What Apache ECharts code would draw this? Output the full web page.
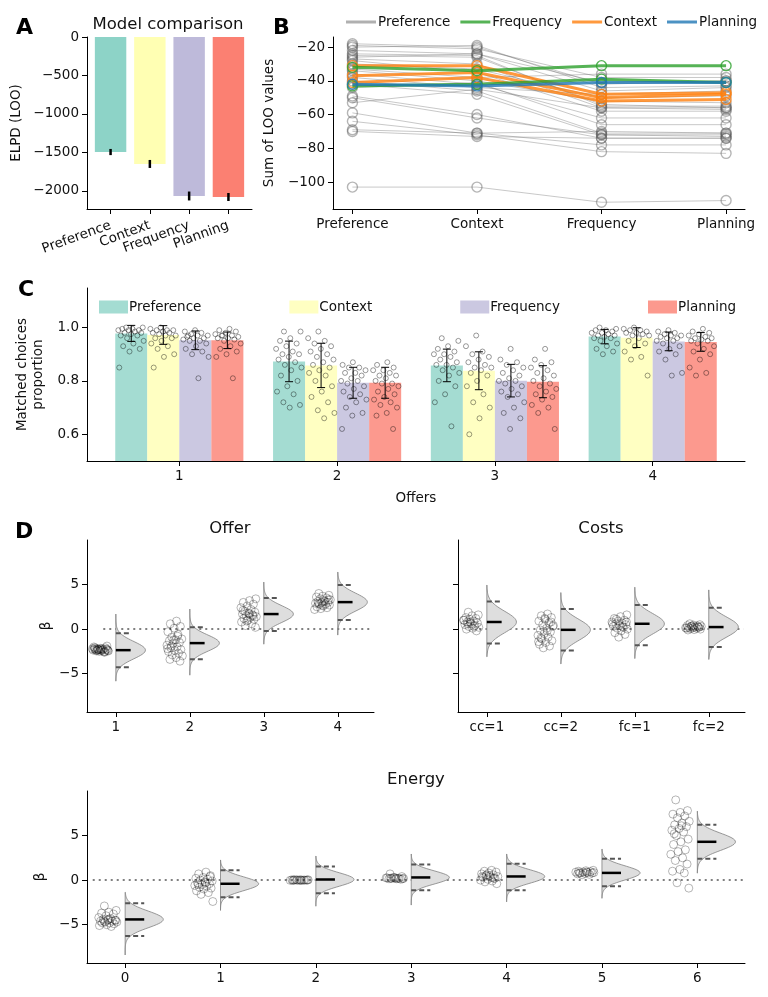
<!DOCTYPE html>
<html>
<head>
<meta charset="utf-8">
<script src="https://cdn.jsdelivr.net/npm/echarts@6/dist/echarts.min.js"></script>
<style>
  html, body { margin: 0; padding: 0; background: #fff; }
  #chart { width: 768px; height: 997px; }
</style>
</head>
<body>
<div id="chart"></div>
<script>
// ---- data ----
var models = ['Preference', 'Context', 'Frequency', 'Planning'];
var modelColors = ['#8dd3c7', '#ffffb3', '#bebada', '#fb8072'];

// A: model comparison
var elpd = [-1494, -1649, -2065, -2078];
var elpdSe = [40, 52, 58, 52];
var elpdTicks = [0, -500, -1000, -1500, -2000];

// B: per-subject sum of LOO values [Preference, Context, Frequency, Planning]
var looTicks = [-20, -40, -60, -80, -100];
var looPreference = [
  [-18, -20, -42, -40], [-19, -21, -38, -38], [-20, -19, -44, -43], [-22, -24, -46, -44],
  [-24, -25, -55, -55], [-25, -26, -54, -56], [-26, -24, -41, -40], [-27, -30, -56, -57],
  [-28, -35, -58, -58], [-30, -33, -50, -49], [-33, -38, -36, -36], [-34, -40, -52, -53],
  [-36, -42, -62, -62], [-38, -44, -48, -46], [-40, -46, -71, -71], [-42, -48, -72, -73],
  [-44, -41, -66, -66], [-49, -60, -74, -74], [-50, -62, -72, -72], [-53, -45, -56, -56],
  [-59, -71, -78, -78], [-64, -72, -82, -83], [-69, -71, -70, -71], [-70, -73, -74, -74],
  [-103, -103, -112, -111]
];
var looFrequency = [[-32, -34, -31, -31], [-43, -42, -39, -41]];
var looContext = [[-31, -31, -48, -47], [-37, -35, -50, -48], [-41, -38, -52, -51]];
var looPlanning = [[-42, -43, -41, -41]];

// C: matched choices proportion, [offer][model]
var offers = ['1', '2', '3', '4'];
var matchedTicks = [0.6, 0.8, 1.0];
var matchedMean = [
  [0.978, 0.972, 0.952, 0.952],
  [0.873, 0.858, 0.793, 0.793],
  [0.858, 0.838, 0.801, 0.797],
  [0.966, 0.962, 0.948, 0.946]
];
var matchedSd = [
  [0.030, 0.035, 0.035, 0.031],
  [0.076, 0.083, 0.058, 0.058],
  [0.061, 0.071, 0.061, 0.060],
  [0.027, 0.037, 0.035, 0.035]
];
var matchedPoints = [
  [
    [1.0, 1.0, 0.995, 0.995, 0.99, 0.99, 0.99, 0.985, 0.98, 0.98, 0.975, 0.97, 0.97, 0.96, 0.95, 0.94, 0.93, 0.92, 0.91, 0.85],
    [1.0, 0.995, 0.99, 0.99, 0.99, 0.985, 0.98, 0.98, 0.975, 0.97, 0.97, 0.96, 0.96, 0.95, 0.94, 0.93, 0.92, 0.9, 0.89, 0.85],
    [0.99, 0.985, 0.98, 0.975, 0.97, 0.97, 0.965, 0.96, 0.96, 0.955, 0.95, 0.95, 0.94, 0.93, 0.92, 0.91, 0.9, 0.89, 0.81, 0.97],
    [0.995, 0.99, 0.985, 0.98, 0.975, 0.97, 0.97, 0.965, 0.96, 0.96, 0.955, 0.95, 0.94, 0.93, 0.92, 0.91, 0.9, 0.89, 0.81, 0.97]
  ],
  [
    [0.985, 0.985, 0.96, 0.95, 0.94, 0.93, 0.92, 0.91, 0.9, 0.9, 0.89, 0.88, 0.87, 0.86, 0.85, 0.84, 0.82, 0.8, 0.78, 0.76, 0.75, 0.72, 0.71, 0.7],
    [0.985, 0.96, 0.95, 0.94, 0.93, 0.92, 0.91, 0.9, 0.89, 0.88, 0.87, 0.86, 0.85, 0.84, 0.83, 0.82, 0.8, 0.78, 0.76, 0.74, 0.72, 0.69, 0.68, 0.66],
    [0.87, 0.86, 0.85, 0.85, 0.84, 0.83, 0.83, 0.82, 0.81, 0.8, 0.8, 0.79, 0.78, 0.77, 0.76, 0.75, 0.74, 0.73, 0.72, 0.7, 0.68, 0.67, 0.62],
    [0.87, 0.86, 0.85, 0.84, 0.84, 0.83, 0.82, 0.82, 0.81, 0.8, 0.79, 0.79, 0.78, 0.77, 0.76, 0.75, 0.74, 0.73, 0.72, 0.71, 0.7, 0.68, 0.67, 0.62]
  ],
  [
    [0.96, 0.95, 0.93, 0.92, 0.91, 0.9, 0.9, 0.89, 0.88, 0.87, 0.86, 0.86, 0.85, 0.84, 0.83, 0.82, 0.8, 0.78, 0.75, 0.72, 0.63],
    [0.97, 0.93, 0.91, 0.9, 0.89, 0.88, 0.87, 0.86, 0.85, 0.85, 0.84, 0.83, 0.82, 0.8, 0.78, 0.75, 0.72, 0.7, 0.66, 0.6],
    [0.92, 0.88, 0.87, 0.86, 0.85, 0.84, 0.83, 0.82, 0.81, 0.8, 0.8, 0.79, 0.78, 0.77, 0.76, 0.75, 0.74, 0.72, 0.7, 0.68, 0.66, 0.62],
    [0.92, 0.88, 0.87, 0.86, 0.85, 0.84, 0.83, 0.82, 0.81, 0.8, 0.79, 0.78, 0.77, 0.76, 0.75, 0.74, 0.73, 0.71, 0.7, 0.68, 0.62]
  ],
  [
    [1.0, 0.995, 0.99, 0.99, 0.985, 0.98, 0.98, 0.975, 0.97, 0.97, 0.965, 0.96, 0.96, 0.95, 0.94, 0.93, 0.92, 0.91, 0.9],
    [1.0, 0.995, 0.99, 0.99, 0.985, 0.98, 0.98, 0.975, 0.97, 0.97, 0.96, 0.95, 0.94, 0.93, 0.91, 0.89, 0.88, 0.82],
    [0.99, 0.985, 0.98, 0.975, 0.97, 0.97, 0.965, 0.96, 0.96, 0.95, 0.95, 0.94, 0.93, 0.92, 0.91, 0.9, 0.88, 0.83, 0.82],
    [0.995, 0.985, 0.98, 0.975, 0.97, 0.965, 0.96, 0.96, 0.955, 0.95, 0.95, 0.94, 0.93, 0.92, 0.91, 0.9, 0.88, 0.85, 0.83, 0.82]
  ]
];

// D: posterior betas. violin rows = [mean, lower, upper, min, max]
var betaTicks = [-5, 0, 5];
var offerLabels = ['1', '2', '3', '4'];
var offerViolin = [
  [-2.36, -4.27, -0.45, -5.84, 1.69],
  [-1.57, -3.37, 0.22, -5.17, 2.25],
  [1.69, -0.22, 3.48, -1.69, 5.28],
  [3.03, 1.01, 4.94, -0.67, 6.4]
];
var offerPoints = [
  [-2.2, -2.3, -2.4, -2.1, -2.5, -2.3, -2.2, -2.35, -2.45, -2.25, -2.15, -2.0, -2.55, -2.3, -2.4, -2.2, -2.3, -2.1, -2.5, -2.35, -2.25, -2.4, -1.9, -2.3, -2.2, -2.6, -2.3, -2.45],
  [0.9, 0.6, 0.3, 0.1, -0.3, -0.6, -0.9, -1.1, -1.2, -1.3, -1.5, -1.6, -1.8, -2.0, -2.1, -2.3, -2.4, -2.5, -2.7, -2.9, -3.0, -3.2, -3.4, -3.6, -1.2, -2.2, -0.8, -1.9],
  [3.4, 3.2, 3.0, 2.8, 2.6, 2.4, 2.2, 2.0, 1.9, 1.8, 1.7, 1.6, 1.5, 1.4, 1.3, 1.2, 1.1, 1.0, 0.8, 0.6, 0.4, 0.2, 1.7, 2.1, 1.5, 0.9],
  [4.0, 3.8, 3.7, 3.6, 3.5, 3.4, 3.3, 3.2, 3.1, 3.0, 3.0, 2.9, 2.8, 2.8, 2.7, 2.6, 2.5, 2.4, 2.3, 2.2, 3.1, 2.9, 3.3, 2.7]
];
var costLabels = ['cc=1', 'cc=2', 'fc=1', 'fc=2'];
var costViolin = [
  [0.8, -1.6, 3.1, -3.1, 4.94],
  [-0.08, -2.4, 2.25, -3.9, 4.1],
  [0.6, -1.8, 2.7, -3.3, 4.7],
  [0.23, -2.0, 2.4, -3.4, 4.4]
];
var costPoints = [
  [1.9, 1.6, 1.5, 1.3, 1.2, 1.1, 1.0, 0.9, 0.8, 0.7, 0.6, 0.5, 0.4, 0.3, 0.2, 0.1, 0.0, -0.2, 0.8, 1.0, 0.3, 0.6],
  [1.7, 1.5, 1.3, 1.1, 0.9, 0.7, 0.5, 0.3, 0.1, -0.1, -0.3, -0.5, -0.7, -0.9, -1.1, -1.3, -1.5, -1.7, -1.9, -2.1, 0.4, -0.2, -1.0, 0.8, 1.2, -1.4],
  [1.6, 1.4, 1.2, 1.0, 0.9, 0.8, 0.7, 0.6, 0.5, 0.4, 0.3, 0.2, 0.1, 0.0, -0.2, -0.4, -0.6, -0.9, 0.6, 0.3, 1.1, 0.8],
  [0.6, 0.5, 0.45, 0.4, 0.35, 0.3, 0.3, 0.25, 0.2, 0.2, 0.15, 0.1, 0.1, 0.05, 0.0, -0.05, -0.1, 0.25, 0.35, 0.15]
];
var energyLabels = ['0', '1', '2', '3', '4', '5', '6'];
var energyViolin = [
  [-4.41, -6.26, -2.59, -8.4, -1.37],
  [-0.41, -1.93, 1.11, -3.4, 2.26],
  [0.07, -1.48, 1.52, -2.93, 2.7],
  [0.3, -1.15, 1.74, -2.8, 2.93],
  [0.41, -1.15, 1.85, -2.44, 2.93],
  [0.81, -0.7, 2.4, -2.04, 3.48],
  [4.3, 2.4, 6.22, 0.78, 7.74]
];
var energyPoints = [
  [-2.9, -3.4, -3.6, -3.7, -3.8, -4.0, -4.2, -4.3, -4.4, -4.5, -4.5, -4.6, -4.6, -4.7, -4.7, -4.8, -4.8, -4.9, -5.0, -5.1, -5.2, -4.6, -4.5, -4.4],
  [0.9, 0.7, 0.5, 0.3, 0.2, 0.1, 0.0, -0.1, -0.2, -0.3, -0.4, -0.5, -0.6, -0.7, -0.8, -0.9, -1.0, -1.2, -1.4, -1.6, -2.4, -0.3, -0.5, 0.4],
  [0.0, 0.05, -0.05, 0.0, 0.02, -0.02, 0.0, 0.05, 0.0, -0.03, 0.03, 0.0, 0.0, 0.04, -0.04, 0.01],
  [0.7, 0.4, 0.3, 0.25, 0.2, 0.2, 0.2, 0.15, 0.15, 0.1, 0.3, 0.25, 0.2, 0.2, 0.15, 0.2],
  [1.1, 1.0, 0.9, 0.8, 0.7, 0.6, 0.5, 0.4, 0.3, 0.3, 0.2, 0.1, 0.0, -0.1, -0.2, -0.4, 0.5, 0.4, 0.2, 0.6],
  [1.1, 1.05, 1.0, 0.95, 0.9, 0.9, 0.85, 0.8, 0.8, 0.75, 0.7, 0.65, 0.6, 0.85, 0.9, 0.8],
  [9.0, 7.8, 7.6, 7.4, 7.2, 7.0, 6.6, 6.4, 6.2, 6.0, 5.8, 5.6, 5.4, 5.0, 4.6, 4.3, 4.0, 3.4, 3.2, 2.9, 2.5, 2.2, 1.8, 1.2, 1.0, 0.8, -0.3, -0.9, 6.1, 5.2]
];

// ---- helpers ----
var FONT = 'DejaVu Sans';
var txt = { color: '#111', fontSize: 13.5, fontFamily: FONT };

function fmtNum(v) {
  return v < 0 ? '\u2212' + Math.abs(v) : String(v);
}
// spread of points around their column, driven by index only
function jit(i) {
  return ((i * 0.618034 + 0.31) % 1) * 2 - 1;
}

function xAxisFor(grid, min, max, ticks, names, rotate) {
  return {
    type: 'value', gridIndex: grid, min: min, max: max, position: 'bottom',
    axisLine: { show: true, onZero: false, lineStyle: { color: '#000', width: 1 } },
    axisTick: { show: true, length: 5, customValues: ticks, lineStyle: { color: '#000' } },
    axisLabel: Object.assign({
      customValues: ticks, margin: 8, rotate: rotate || 0, hideOverlap: false,
      formatter: function (v) { var i = ticks.indexOf(v); return i >= 0 ? names[i] : ''; }
    }, txt),
    splitLine: { show: false }
  };
}

function yAxisFor(grid, min, max, ticks, fmt, name, gap, showLabels) {
  return {
    type: 'value', gridIndex: grid, min: min, max: max,
    name: name || '', nameLocation: 'middle', nameGap: gap || 0, nameRotate: 90,
    nameTextStyle: Object.assign({ lineHeight: 16 }, txt),
    axisLine: { show: true, onZero: false, lineStyle: { color: '#000', width: 1 } },
    axisTick: { show: true, length: 5, customValues: ticks, lineStyle: { color: '#000' } },
    axisLabel: Object.assign({ show: showLabels !== false, customValues: ticks, formatter: fmt, margin: 8 }, txt),
    splitLine: { show: false }
  };
}

function lineShape(p, q, style) {
  return { type: 'line', shape: { x1: p[0], y1: p[1], x2: q[0], y2: q[1] }, style: style };
}

// half violin: flat side on the category, gaussian outline from the read mean / interval
var VIOLIN_HALF = 0.4;
function violinRender(params, api) {
  var x = api.value(0), m = api.value(1), lo = api.value(2), hi = api.value(3), mn = api.value(4), mx = api.value(5);
  var sd = (hi - lo) / 3.92;
  var pts = [api.coord([x, mn])];
  for (var k = 0; k <= 60; k++) {
    var y = mn + (mx - mn) * k / 60;
    var w = VIOLIN_HALF * Math.exp(-0.5 * Math.pow((y - m) / sd, 2));
    pts.push(api.coord([x + w, y]));
  }
  pts.push(api.coord([x, mx]));
  var dash = { stroke: '#555', lineWidth: 2, lineDash: [5, 3] };
  return {
    type: 'group',
    children: [
      { type: 'polygon', shape: { points: pts }, style: { fill: '#dedede', stroke: '#808080', lineWidth: 0.8 } },
      lineShape(api.coord([x, lo]), api.coord([x + 0.2, lo]), dash),
      lineShape(api.coord([x, hi]), api.coord([x + 0.2, hi]), dash),
      lineShape(api.coord([x, m]), api.coord([x + 0.2, m]), { stroke: '#000', lineWidth: 2.5 })
    ]
  };
}

function violinSeries(axis, rows, first) {
  return {
    type: 'custom', xAxisIndex: axis, yAxisIndex: axis, renderItem: violinRender, silent: true, z: 3,
    data: rows.map(function (r, i) { return [first + i].concat(r); })
  };
}

function betaPointSeries(axis, cols, first, centre, spread) {
  var data = [];
  cols.forEach(function (col, c) {
    col.forEach(function (v, i) { data.push([first + c + centre + jit(i + c * 7) * spread, v]); });
  });
  return {
    type: 'scatter', xAxisIndex: axis, yAxisIndex: axis, symbol: 'circle', symbolSize: 8, silent: true, z: 4,
    itemStyle: { color: 'rgba(0,0,0,0)', borderColor: 'rgba(0,0,0,0.45)', borderWidth: 0.8 },
    data: data
  };
}

function zeroLine(axis, from, to) {
  return {
    type: 'line', xAxisIndex: axis, yAxisIndex: axis, symbol: 'none', silent: true, z: 2,
    lineStyle: { color: '#808080', width: 2, type: [2, 4] },
    data: [[from, 0], [to, 0]]
  };
}

// ---- series ----
var series = [];

// A
series.push({
  type: 'custom', xAxisIndex: 0, yAxisIndex: 0, silent: true,
  data: elpd.map(function (v, i) { return [i, v, elpdSe[i]]; }),
  renderItem: function (params, api) {
    var i = api.value(0), v = api.value(1), se = api.value(2);
    var p0 = api.coord([i - 0.4, v]), p1 = api.coord([i + 0.4, 0]);
    return {
      type: 'group',
      children: [
        { type: 'rect', shape: { x: p0[0], y: p1[1], width: p1[0] - p0[0], height: p0[1] - p1[1] }, style: { fill: modelColors[i] } },
        lineShape(api.coord([i, v - se]), api.coord([i, v + se]), { stroke: '#000', lineWidth: 2.5 })
      ]
    };
  }
});

// B
function looSeries(rows, name, lineColor, width, edge, z) {
  return rows.map(function (r) {
    return {
      type: 'line', name: name, xAxisIndex: 1, yAxisIndex: 1, z: z, silent: true,
      data: r.map(function (v, i) { return [i, v]; }),
      symbol: 'circle', symbolSize: 10, showAllSymbol: true,
      lineStyle: { color: lineColor, width: width },
      itemStyle: { color: 'rgba(0,0,0,0)', borderColor: edge, borderWidth: 1.4 }
    };
  });
}
series = series.concat(
  looSeries(looPreference, 'Preference', 'rgba(100,100,100,0.45)', 0.8, 'rgba(90,90,90,0.45)', 2),
  looSeries(looContext, 'Context', 'rgba(255,127,14,0.8)', 3, 'rgba(255,127,14,0.8)', 3),
  looSeries(looFrequency, 'Frequency', 'rgba(44,160,44,0.8)', 3, 'rgba(44,160,44,0.8)', 4),
  looSeries(looPlanning, 'Planning', 'rgba(31,119,180,0.8)', 3, 'rgba(31,119,180,0.8)', 5)
);

// C
var BAR_W = 0.203;
models.forEach(function (name, m) {
  var off = (m - 1.5) * BAR_W;
  series.push({
    type: 'custom', name: name, xAxisIndex: 2, yAxisIndex: 2, silent: true, z: 2,
    data: offers.map(function (o, k) { return [k + 1 + off, matchedMean[k][m], matchedSd[k][m]]; }),
    renderItem: function (params, api) {
      var x = api.value(0), v = api.value(1), sd = api.value(2);
      var p0 = api.coord([x - BAR_W / 2, v]), p1 = api.coord([x + BAR_W / 2, 0.5]);
      var a = api.coord([x, v - sd]), b = api.coord([x, v + sd]);
      var ln = { stroke: '#000', lineWidth: 1 };
      return {
        type: 'group',
        children: [
          { type: 'rect', shape: { x: p0[0], y: p0[1], width: p1[0] - p0[0], height: p1[1] - p0[1] }, style: { fill: modelColors[m], opacity: 0.8 } },
          lineShape(a, b, ln),
          lineShape([a[0] - 4, a[1]], [a[0] + 4, a[1]], ln),
          lineShape([b[0] - 4, b[1]], [b[0] + 4, b[1]], ln)
        ]
      };
    }
  });
  var pts = [];
  offers.forEach(function (o, k) {
    matchedPoints[k][m].forEach(function (v, i) { pts.push([k + 1 + off + jit(i + m * 5) * 0.085, v]); });
  });
  series.push({
    type: 'scatter', xAxisIndex: 2, yAxisIndex: 2, symbol: 'circle', symbolSize: 5, silent: true, z: 4,
    itemStyle: { color: 'rgba(0,0,0,0)', borderColor: 'rgba(0,0,0,0.55)', borderWidth: 0.9 },
    data: pts
  });
});

// D
series.push(zeroLine(3, 0.83, 4.47), violinSeries(3, offerViolin, 1), betaPointSeries(3, offerPoints, 1, -0.21, 0.11));
series.push(zeroLine(4, 0.9, 4.47), violinSeries(4, costViolin, 1), betaPointSeries(4, costPoints, 1, -0.21, 0.11));
series.push(zeroLine(5, -0.34, 6.5), violinSeries(5, energyViolin, 0), betaPointSeries(5, energyPoints, 0, -0.18, 0.1));

// ---- chart ----
var chart = echarts.init(document.getElementById('chart'), null, { renderer: 'canvas' });
var labelStyle = { fontSize: 22, fontWeight: 'bold', fontFamily: FONT, color: '#000' };
var titleStyle = { fontSize: 16.5, fontWeight: 'normal', fontFamily: FONT, color: '#111' };
var noBorder = { borderWidth: 0, borderColor: 'rgba(0,0,0,0)' };

// panel A labels are split over two overlaid axes so the slanted names can overlap like the original
var axisA1 = xAxisFor(0, -0.6, 3.6, [0, 2], [models[0], models[2]], 20);
var axisA2 = xAxisFor(0, -0.6, 3.6, [1, 3], [models[1], models[3]], 20);
axisA1.axisLabel.margin = 16;
axisA2.axisLabel.margin = 16;
axisA2.axisLine.show = false;

chart.setOption({
  animation: false,
  backgroundColor: '#fff',
  title: [
    { text: 'A', left: 16, top: 17, padding: 0, textStyle: labelStyle },
    { text: 'B', left: 273, top: 17, padding: 0, textStyle: labelStyle },
    { text: 'C', left: 18, top: 279, padding: 0, textStyle: labelStyle },
    { text: 'D', left: 15, top: 521, padding: 0, textStyle: labelStyle },
    { text: 'Model comparison', left: 168, top: 16, padding: 0, textAlign: 'center', textStyle: titleStyle },
    { text: 'Offer', left: 230, top: 520, padding: 0, textAlign: 'center', textStyle: titleStyle },
    { text: 'Costs', left: 601, top: 520, padding: 0, textAlign: 'center', textStyle: titleStyle },
    { text: 'Energy', left: 416, top: 771, padding: 0, textAlign: 'center', textStyle: titleStyle }
  ],
  legend: [
    {
      left: 346, top: 15, width: 420, padding: 0, itemWidth: 30, itemHeight: 3, itemGap: 10, icon: 'rect',
      selectedMode: false, textStyle: Object.assign({ padding: [0, 0, 0, -3] }, txt),
      data: [
        { name: 'Preference', itemStyle: Object.assign({ color: '#b0b0b0' }, noBorder) },
        { name: 'Frequency', itemStyle: Object.assign({ color: 'rgba(44,160,44,0.8)' }, noBorder) },
        { name: 'Context', itemStyle: Object.assign({ color: 'rgba(255,127,14,0.8)' }, noBorder) },
        { name: 'Planning', itemStyle: Object.assign({ color: 'rgba(31,119,180,0.8)' }, noBorder) }
      ]
    },
    {
      left: 99, top: 300, width: 669, padding: 0, itemWidth: 29, itemHeight: 13, itemGap: 88, icon: 'rect',
      selectedMode: false, textStyle: Object.assign({ padding: [0, 0, 0, -4] }, txt),
      data: models.map(function (n, m) {
        return { name: n, itemStyle: Object.assign({ color: modelColors[m], opacity: 0.8 }, noBorder) };
      })
    }
  ],
  grid: [
    { left: 87, top: 37, width: 165, height: 172 },
    { left: 333, top: 37, width: 412, height: 172 },
    { left: 87, top: 288, width: 658, height: 173 },
    { left: 87, top: 540, width: 287, height: 172 },
    { left: 458, top: 540, width: 287, height: 172 },
    { left: 87, top: 791, width: 658, height: 172 }
  ],
  xAxis: [
    axisA1,
    xAxisFor(1, -0.156, 3.152, [0, 1, 2, 3], models),
    Object.assign(xAxisFor(2, 0.415, 4.585, [1, 2, 3, 4], offers),
      { name: 'Offers', nameLocation: 'middle', nameGap: 30, nameTextStyle: txt }),
    xAxisFor(3, 0.61, 4.49, [1, 2, 3, 4], offerLabels),
    xAxisFor(4, 0.61, 4.49, [1, 2, 3, 4], costLabels),
    xAxisFor(5, -0.4, 6.5, [0, 1, 2, 3, 4, 5, 6], energyLabels),
    axisA2
  ],
  yAxis: [
    yAxisFor(0, -2234, 0, elpdTicks, fmtNum, 'ELPD (LOO)', 63),
    yAxisFor(1, -116, -14, looTicks, fmtNum, 'Sum of LOO values', 43),
    yAxisFor(2, 0.5, 1.148, matchedTicks, function (v) { return v.toFixed(1); }, 'Matched choices\nproportion', 37),
    yAxisFor(3, -9.3, 10, betaTicks, fmtNum, '\u03b2', 33),
    yAxisFor(4, -9.3, 10, betaTicks, fmtNum, '', 0, false),
    yAxisFor(5, -9.3, 10, betaTicks, fmtNum, '\u03b2', 33)
  ],
  series: series
});
</script>
</body>
</html>
